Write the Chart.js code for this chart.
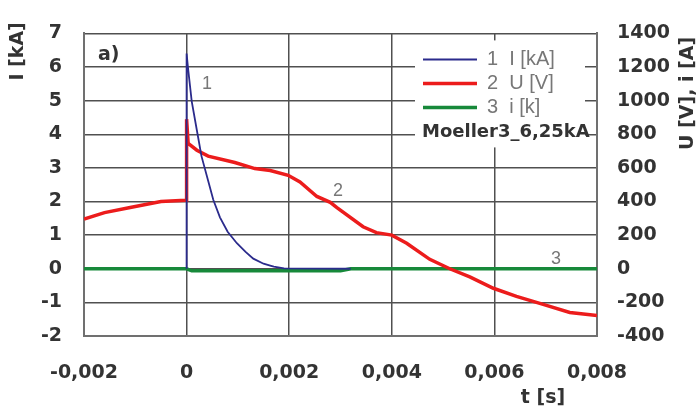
<!doctype html>
<html>
<head>
<meta charset="utf-8">
<title>Moeller3 6,25kA</title>
<style>
  body { margin: 0; background: #fff; }
  canvas { display: block; }
</style>
</head>
<body>
<canvas id="chart" width="699" height="418"></canvas>
<script src="https://cdn.jsdelivr.net/npm/chart.js"></script>
<script>
// tick values
const tTicks = [-0.002, 0, 0.002, 0.004, 0.006, 0.008];
const iTicks = [-2, -1, 0, 1, 2, 3, 4, 5, 6, 7];
const uTicks = [-400, -200, 0, 200, 400, 600, 800, 1000, 1200, 1400];

// 1: I [kA] (left axis)
const tCurrent = [0, 0, 0.00003, 0.0001, 0.0002, 0.00029, 0.00042, 0.00052, 0.00065, 0.0008, 0.00098, 0.00115, 0.0013, 0.0015, 0.00163, 0.0017, 0.0019, 0.0032];
const current  = [0, 6.4, 5.94, 4.98, 4.12, 3.35, 2.62, 2.05, 1.53, 1.1, 0.76, 0.5, 0.3, 0.15, 0.09, 0.06, 0.01, 0];

// 2: U [V] (right axis)
const tVoltage = [-0.002, -0.0016, -0.0011, -0.0005, -0.00002, 0, 0, 0.00003, 0.0002, 0.00042, 0.00094, 0.00133, 0.00163, 0.00198, 0.00221, 0.00254, 0.0028, 0.00293, 0.00344, 0.0037, 0.004, 0.00429, 0.00474, 0.00513, 0.00552, 0.00598, 0.00643, 0.00695, 0.00747, 0.008];
const voltage  = [296, 334, 364, 400, 408, 408, 890, 746, 705, 670, 632, 596, 584, 556, 516, 430, 395, 364, 250, 215, 200, 152, 56, 0, -48, -116, -164, -212, -260, -278];

// 3: i [k] (left axis)
const tSmall = [-0.002, 0, 0.0001, 0.003, 0.0032, 0.008];
const small  = [0, 0, -0.06, -0.06, 0, 0];

const legendItems = ['1  I [kA]', '2  U [V]', '3  i [k]'];
const legendNote = 'Moeller3_6,25kA';

const BLUE = '#2b2b8c', RED = '#ec1c1c', GREEN = '#17893a';
const TICK_FONT = { family: 'DejaVu Sans', size: 19, weight: 'bold' };

function pts(xs, ys) { return xs.map((x, i) => ({ x, y: ys[i] })); }
function fmt(v) { return v === 0 ? '0' : v.toFixed(3).replace('.', ','); }
function fixTicks(arr) { return s => { s.ticks = arr.map(v => ({ value: v })); }; }

// titles, notes and the framed legend
const decor = {
  id: 'decor',
  afterDraw(chart) {
    const c = chart.ctx, a = chart.chartArea, sx = chart.scales.x, sy = chart.scales.y;
    c.save();
    c.fillStyle = '#333';
    c.font = 'bold 19px "DejaVu Sans"';
    c.textAlign = 'center';
    c.textBaseline = 'middle';
    // axis titles
    c.save(); c.translate(a.left - 66, a.top + 18); c.rotate(-Math.PI / 2); c.fillText('I [kA]', 0, 0); c.restore();
    c.save(); c.translate(a.right + 91, a.top + 60); c.rotate(-Math.PI / 2); c.fillText('U [V], i [A]', 0, 0); c.restore();
    c.fillText('t [s]', a.right - 54, a.bottom + 62);
    // panel label
    c.textAlign = 'left';
    c.fillText('a)', a.left + 14, a.top + 22);
    // curve numbers
    c.fillStyle = '#777';
    c.font = '18px "Liberation Sans"';
    c.textAlign = 'center';
    c.fillText('1', sx.getPixelForValue(0.0004), sy.getPixelForValue(5.5));
    c.fillText('2', sx.getPixelForValue(0.00295), sy.getPixelForValue(2.3));
    c.fillText('3', sx.getPixelForValue(0.0072), sy.getPixelForValue(0.3));
    // legend
    const lx = a.left + 331, ly = a.top + 7;
    c.fillStyle = '#fff';
    c.fillRect(lx, ly, 170, 107);
    const colors = [BLUE, RED, GREEN], widths = [2, 3.5, 3.5];
    legendItems.forEach((t, i) => {
      const y = ly + 19 + i * 24;
      c.strokeStyle = colors[i];
      c.lineWidth = widths[i];
      c.beginPath(); c.moveTo(lx + 8, y); c.lineTo(lx + 62, y); c.stroke();
      c.fillStyle = '#777';
      c.font = '20px "Liberation Sans"';
      c.textAlign = 'left';
      c.fillText(t, lx + 72, y);
    });
    c.fillStyle = '#333';
    c.font = 'bold 18px "DejaVu Sans"';
    c.fillText(legendNote, lx + 7, ly + 92);
    c.restore();
  }
};

new Chart(document.getElementById('chart'), {
  type: 'line',
  data: {
    datasets: [
      { label: legendItems[0], data: pts(tCurrent, current), yAxisID: 'y', borderColor: BLUE, borderWidth: 1.8, order: 0 },
      { label: legendItems[1], data: pts(tVoltage, voltage), yAxisID: 'y1', borderColor: RED, borderWidth: 3.5, order: 1 },
      { label: legendItems[2], data: pts(tSmall, small), yAxisID: 'y', borderColor: GREEN, borderWidth: 3.5, order: 2 }
    ]
  },
  options: {
    responsive: false,
    devicePixelRatio: 1,
    animation: false,
    layout: { padding: { top: 23, left: 0, right: 0, bottom: 0 } },
    elements: { point: { radius: 0 }, line: { tension: 0 } },
    plugins: { legend: { display: false }, tooltip: { enabled: false } },
    scales: {
      x: {
        type: 'linear', min: -0.002, max: 0.008,
        afterBuildTicks: fixTicks(tTicks),
        afterFit: s => { s.height = 82; },
        grid: { color: '#505050', lineWidth: 1.5, drawTicks: false },
        border: { color: '#707070', width: 2 },
        ticks: { font: TICK_FONT, color: '#333', padding: 26, maxRotation: 0, callback: fmt }
      },
      y: {
        position: 'left', min: -2, max: 7,
        afterBuildTicks: fixTicks(iTicks),
        afterFit: s => { s.width = 84; },
        grid: { color: '#505050', lineWidth: 1.5, drawTicks: false },
        border: { color: '#707070', width: 2 },
        ticks: { font: TICK_FONT, color: '#333', padding: 22, callback: v => String(v) }
      },
      y1: {
        position: 'right', min: -400, max: 1400,
        afterBuildTicks: fixTicks(uTicks),
        afterFit: s => { s.width = 102; },
        grid: { display: false, drawTicks: false },
        border: { color: '#707070', width: 2 },
        ticks: { font: TICK_FONT, color: '#333', padding: 20, callback: v => String(v) }
      }
    }
  },
  plugins: [decor]
});
</script>
</body>
</html>
